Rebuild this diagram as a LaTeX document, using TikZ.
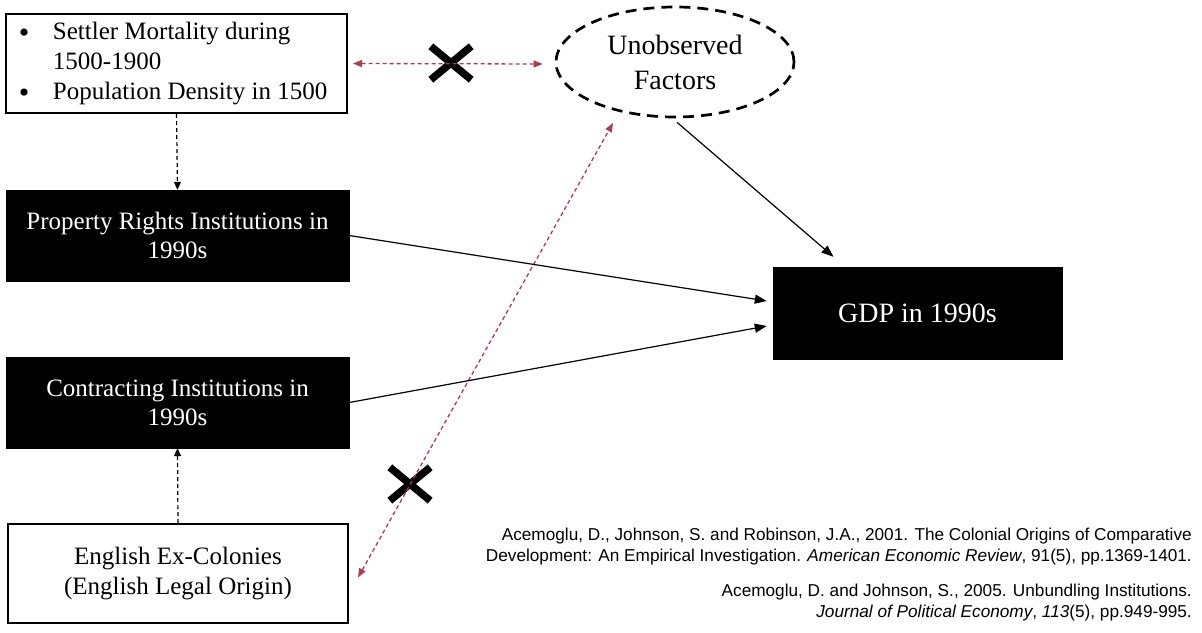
\documentclass[tikz,border=0pt]{standalone}
\usepackage{fontspec}
\setmainfont{Liberation Serif}
\newfontfamily\arialfont{Liberation Sans}
\usetikzlibrary{arrows.meta,shapes.geometric,shapes.misc}
\definecolor{redarr}{RGB}{176,58,82}
\newcommand{\mybul}{\raisebox{-2.5pt}{\fontsize{30}{30}\selectfont\textbullet}}
\begin{document}
\begin{tikzpicture}[x=1pt,y=-1pt,
  wbox/.style={draw=black,line width=2pt,fill=white,inner sep=0pt,align=center,
    font=\fontsize{25}{30}\selectfont},
  bbox/.style={draw=black,fill=black,text=white,inner sep=0pt,align=center,
    font=\fontsize{25}{29}\selectfont},
  dasharr/.style={line width=1.2pt,dash pattern=on 4pt off 3pt,
    -{Triangle[length=8pt,width=7pt]}},
  redarr/.style={draw=redarr,line width=1.3pt,dash pattern=on 4pt off 3pt,
    {Triangle[length=9pt,width=7pt]}-{Triangle[length=9pt,width=7pt]}},
  solarr/.style={line width=1.2pt,-{Triangle[length=12pt,width=9pt]}},
  xmark/.style={minimum width=40pt,minimum height=33pt,inner sep=0pt},
  xline/.style={line width=7.5pt},
  reftext/.style={font=\arialfont\fontsize{17.2}{21}\selectfont,align=right,inner sep=0pt}
]
\fill[white] (0,0) rectangle (1202,632);
\useasboundingbox (0,0) rectangle (1202,632);

\node[wbox,text width=315pt,inner xsep=13pt,align=left,minimum height=99pt] (top) at (176.5,63.5)
  {\spaceskip=0pt\xspaceskip=0pt
   \begin{tabular}{@{}p{34pt}@{}l@{}}
   \mybul & Settler Mortality during\\
   & 1500-1900\\
   \mybul & Population Density in 1500
   \end{tabular}};

\node[bbox,minimum width=343pt,minimum height=91pt] (prop) at (177.5,235.5)
  {Property Rights Institutions in\\1990s};
\node[bbox,minimum width=343pt,minimum height=91pt] (contr) at (177.5,402.5)
  {Contracting Institutions in\\1990s};
\node[wbox,minimum width=340pt,minimum height=99pt] (eng) at (178,573.5)
  {English Ex-Colonies\\(English Legal Origin)};

\node[bbox,minimum width=289pt,minimum height=92pt,
  font=\fontsize{28}{34}\selectfont] (gdp) at (917.5,313) {GDP in 1990s};

\node[ellipse,draw=black,line width=2.7pt,dash pattern=on 11pt off 7pt,
  minimum width=238pt,minimum height=110pt,inner sep=0pt,align=center,
  font=\fontsize{28}{35}\selectfont] (ell) at (675,62) {Unobserved\\Factors};

\node[xmark] (x1) at (451,63) {};
\node[xmark] (x2) at (410,484) {};
\draw[xline] (x1.south west) -- (x1.north east) (x1.north west) -- (x1.south east);
\draw[xline] (x2.south west) -- (x2.north east) (x2.north west) -- (x2.south east);

\draw[dasharr] (top.south) -- (prop.north);
\draw[dasharr] (eng.north) -- (contr.south);

\draw[redarr] ([xshift=5pt]top.east) -- ([shift={(-12,2)}]ell.west);
\draw[redarr] ([shift={(9,4)}]eng.east) -- ([shift={(-62,61)}]ell.center);

\draw[solarr] (prop.east) -- ([shift={(-6,-12)}]gdp.west);
\draw[solarr] (contr.east) -- ([shift={(-6,13)}]gdp.west);
\draw[solarr] ([shift={(2,4)}]ell.south) -- ([shift={(-84,-10)}]gdp.north);

\node[reftext,anchor=north east] (ref1) at (1192,528)
  {Acemoglu, D., Johnson, S. and Robinson, J.A., 2001. The Colonial Origins of Comparative\\
   Development: An Empirical Investigation. \textit{American Economic Review}, 91(5), pp.1369-1401.};
\node[reftext,anchor=north east] (ref2) at (1192,584)
  {Acemoglu, D. and Johnson, S., 2005. Unbundling Institutions.\\
   \textit{Journal of Political Economy}, \textit{113}(5), pp.949-995.};
\end{tikzpicture}
\end{document}
